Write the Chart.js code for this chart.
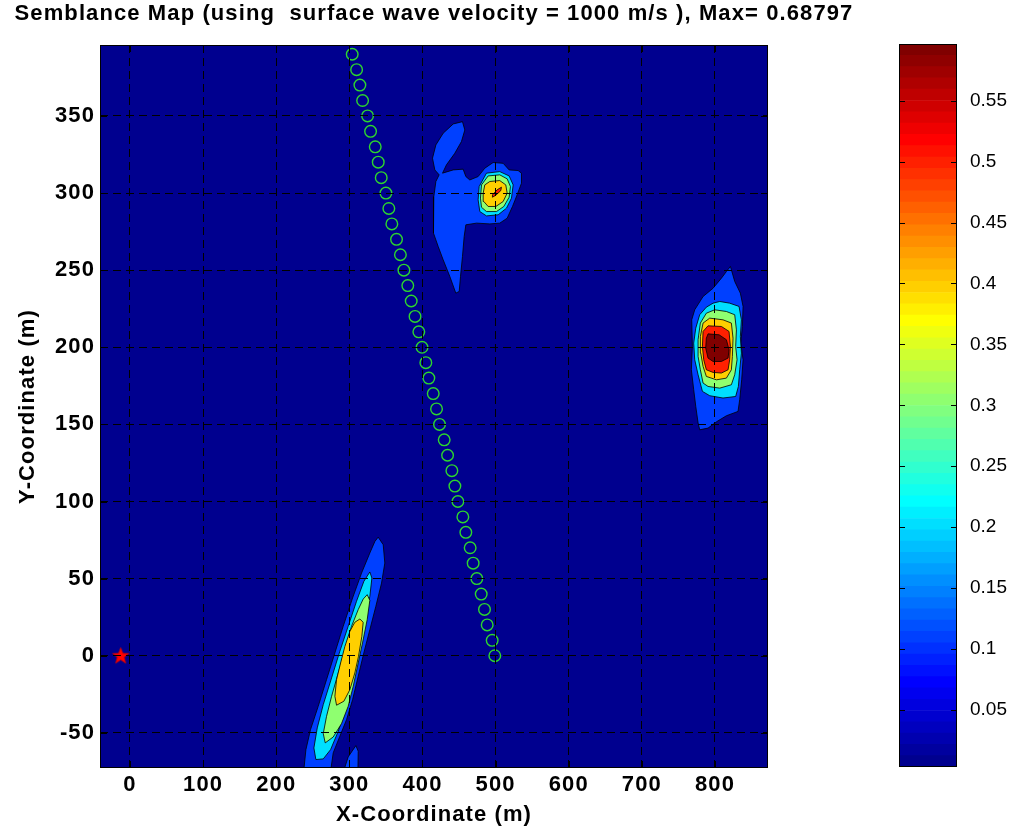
<!DOCTYPE html>
<html>
<head>
<meta charset="utf-8">
<script src="https://cdn.jsdelivr.net/npm/chart.js@4.4.1/dist/chart.umd.min.js"></script>
<style>
  html, body { margin: 0; padding: 0; background: #fff; }
  #wrap { position: relative; width: 1011px; height: 829px; overflow: hidden; }
  #main { position: absolute; left: 0; top: 0; }
  #cbar { position: absolute; left: 868px; top: 0; }
</style>
</head>
<body>
<div id="wrap">
  <canvas id="main" width="868" height="829"></canvas>
  <canvas id="cbar" width="143" height="829"></canvas>
</div>
<script>
const FONT = "'Liberation Sans', Arial, Helvetica, sans-serif";

const titleText = 'Semblance Map (using  surface wave velocity = 1000 m/s ), Max= 0.68797';

/* axes */
const xRange = [-41, 872.5];
const yRange = [-72.8, 396];
const xTicks = [0, 100, 200, 300, 400, 500, 600, 700, 800];
const yTicks = [-50, 0, 50, 100, 150, 200, 250, 300, 350];

/* colorbar */
const cbRange = [0.0032, 0.5965];
const cbTicks = [0.05, 0.1, 0.15, 0.2, 0.25, 0.3, 0.35, 0.4, 0.45, 0.5, 0.55];

/* contour levels (level 0 = background) */
const levels = [0.0032, 0.107, 0.201, 0.300, 0.398, 0.497, 0.5965];

/* receivers (green circles) */
const recvY = [0, 10, 20, 30, 40, 50, 60, 70, 80, 90, 100, 110, 120, 130, 140, 150, 160, 170, 180, 190,
               200, 210, 220, 230, 240, 250, 260, 270, 280, 290, 300, 310, 320, 330, 340, 350, 360, 370, 380, 390];
const recvX = [498.9, 495.3, 488.5, 484.8, 480.3, 474.3, 469.3, 465.2, 459.3, 455.2,
               448.4, 444.3, 440.2, 434.3, 429.7, 423.3, 419.2, 414.7, 408.7, 404.6,
               399.4, 395.0, 389.8, 384.6, 379.9, 374.6, 369.8, 364.5, 358.1, 354.0,
               350.0, 343.6, 339.5, 335.4, 329.0, 324.9, 318.1, 314.4, 309.9, 303.9];

/* source (red star) */
const srcX = [-12.7];
const srcY = [0];

/* peak near (500, 300) */
const peakA1 = [[454.7,346.3],[442.0,344.8],[428.3,338.8],[418.3,331.2],[413.7,322.6],[416.9,315.0],[422.8,311.8],
  [418.3,307.5],[415.5,297.7],[414.6,284.8],[415.5,274.0],[421.5,265.3],[428.3,256.7],[437.4,245.9],[445.6,235.1],
  [450.2,236.2],[452.0,245.9],[454.7,258.9],[457.0,271.8],[459.3,279.4],[473.9,280.5],[492.1,280.0],[505.7,280.5],
  [515.8,283.7],[523.1,291.3],[529.4,298.8],[535.4,306.4],[535.4,312.9],[530.8,314.6],[518.5,315.0],[510.3,319.3],
  [496.6,319.8],[485.2,316.1],[476.1,310.7],[464.7,308.5],[459.3,310.7],[455.6,315.5],[442.0,315.0],[427.4,312.9],
  [432.8,318.3],[444.2,325.8],[453.3,333.4],[457.9,340.9]];
const peakA2 = [[487.5,312.9],[505.7,313.9],[518.5,311.1],[524.0,305.3],[521.7,296.7],[514.9,290.2],[503.5,285.9],
  [487.5,285.2],[478.4,288.0],[476.1,295.6],[477.5,304.2]];
const peakA3 = [[489.8,311.1],[505.7,311.8],[515.8,309.2],[520.3,304.2],[518.5,297.3],[511.2,291.3],[501.2,288.0],
  [487.5,288.0],[480.7,290.8],[479.3,296.7],[480.7,305.3]];
const peakA4 = [[492.1,307.5],[505.7,308.1],[513.9,305.3],[515.8,299.9],[510.3,294.5],[500.3,291.3],[489.8,291.3],
  [483.9,294.5],[483.0,299.9],[485.2,305.3]];
const peakA5 = [[495.7,298.8],[502.1,302.1],[508.0,303.8],[507.1,301.6],[500.3,298.6],[495.7,297.3]];

/* peak near (800, 200) */
const peakB1 = [[821.1,252.4],[827.0,242.7],[834.7,235.1],[838.4,226.5],[837.5,213.5],[835.2,202.7],[838.4,191.9],
  [836.5,178.9],[833.8,166.0],[831.5,158.4],[815.6,155.6],[802.8,151.9],[790.5,147.6],[779.1,146.5],[776.9,150.9],
  [773.7,161.7],[770.9,172.5],[767.7,185.4],[769.1,200.5],[768.2,217.8],[772.3,224.3],[783.7,232.9],[797.4,238.3],
  [808.8,244.8],[815.6,249.1]];
const peakB2 = [[806.5,229.7],[820.1,228.6],[832.9,226.5],[836.1,217.8],[834.7,207.0],[836.1,196.2],[833.8,185.4],
  [832.0,174.6],[828.3,168.1],[811.0,167.1],[792.8,168.6],[782.8,171.4],[776.9,182.2],[772.3,191.9],[770.9,202.7],
  [773.7,212.4],[779.1,221.1],[788.2,226.0],[797.4,228.6]];
const peakB3 = [[799.6,224.3],[815.6,223.2],[827.0,221.1],[829.3,211.3],[828.3,200.5],[830.2,191.9],[827.0,182.2],
  [822.4,175.7],[806.5,173.5],[790.5,174.6],[783.7,176.8],[780.0,185.4],[776.9,194.1],[776.9,204.9],[780.0,215.7],
  [788.2,222.1]];
const peakB4 = [[792.8,218.9],[811.0,217.8],[822.4,215.7],[824.7,205.9],[823.8,194.1],[822.4,185.4],[815.6,180.0],
  [802.0,178.9],[788.2,181.1],[783.7,187.6],[780.5,196.2],[780.0,207.0],[783.7,215.7]];
const peakB5 = [[790.5,213.9],[808.8,213.5],[819.2,210.3],[821.1,200.5],[820.1,191.9],[817.9,185.4],[808.8,183.3],
  [797.4,183.7],[788.2,185.4],[784.6,191.9],[782.8,200.5],[783.7,210.3]];
const peakB6 = [[790.5,208.7],[805.6,208.1],[815.6,204.9],[819.2,198.4],[817.9,193.0],[808.8,190.8],[797.4,190.8],
  [790.5,193.0],[787.3,199.5],[788.2,205.9]];

/* elongated peak near (300, 0) */
const peakC1 = [[339.4,76.9],[346.3,72.0],[348.5,60.1],[344.0,47.1],[336.2,32.0],[328.0,16.9],[319.8,1.8],
  [312.1,-13.3],[304.4,-28.5],[296.2,-41.4],[287.0,-52.2],[277.9,-63.0],[273.4,-78],[236.9,-78],[240.6,-60.9],
  [246.9,-47.9],[257.4,-32.8],[268.8,-15.5],[280.2,1.8],[291.6,19.1],[304.4,37.4],[316.7,53.6],[328.0,66.6],
  [334.9,74.1]];
const peakC1b = [[308.9,-58.3],[312.1,-61.9],[311.6,-78],[290.0,-78],[298.4,-65.6]];
const peakC2 = [[328.0,54.3],[330.8,50.4],[328.0,38.5],[321.7,23.4],[315.3,8.3],[308.5,-6.9],[301.6,-22.0],
  [293.9,-36.0],[284.8,-49.0],[274.3,-60.9],[264.3,-66.9],[254.2,-67.3],[251.5,-59.8],[256.1,-46.8],[264.3,-31.7],
  [275.7,-14.4],[287.0,2.9],[298.4,19.1],[309.8,35.3],[319.8,48.2]];
const peakC3 = [[324.4,39.6],[328.0,35.9],[324.4,23.4],[318.0,8.3],[312.1,-4.7],[305.3,-19.8],[298.4,-32.8],
  [289.3,-44.0],[277.9,-52.7],[267.0,-56.5],[264.3,-50.5],[268.8,-39.3],[275.7,-26.3],[284.8,-11.2],[293.9,3.9],
  [303.0,19.1],[312.1,29.9],[319.0,36.8]];
const peakC4 = [[314.4,23.8],[318.9,21.7],[317.1,12.6],[312.5,-0.4],[307.5,-11.2],[300.7,-22.0],[292.5,-29.5],
  [282.5,-32.1],[280.2,-26.3],[282.5,-15.5],[288.0,-4.7],[293.9,6.1],[300.7,15.8],[307.5,21.7]];

const contours = [
  [peakA1, 1], [peakA2, 2], [peakA3, 3], [peakA4, 4], [peakA5, 5],
  [peakB1, 1], [peakB2, 2], [peakB3, 3], [peakB4, 4], [peakB5, 5], [peakB6, 6],
  [peakC1, 1], [peakC1b, 1], [peakC2, 2], [peakC3, 3], [peakC4, 4]
];

/* MATLAB jet(64) */
function jetRow(k) {
  const u = i => (i < 1 || i > 47) ? 0 : (i <= 16 ? i / 16 : (i <= 31 ? 1 : (48 - i) / 16));
  const r = u(k - 24), g = u(k - 8), b = u(k + 8);
  return `rgb(${Math.round(r * 255)},${Math.round(g * 255)},${Math.round(b * 255)})`;
}
function colorFor(v) {
  const t = (v - cbRange[0]) / (cbRange[1] - cbRange[0]);
  const k = Math.min(64, Math.max(1, Math.floor(t * 64) + 1));
  return jetRow(k);
}

/* red pentagram marker */
function starImage(size, color) {
  const c = document.createElement('canvas');
  c.width = size; c.height = size;
  const g = c.getContext('2d');
  const R = size / 2 - 1, r = R * 0.42, cx = size / 2, cy = size / 2 + 0.5;
  g.beginPath();
  for (let i = 0; i < 10; i++) {
    const a = -Math.PI / 2 + i * Math.PI / 5;
    const rr = i % 2 ? r : R;
    g.lineTo(cx + rr * Math.cos(a), cy + rr * Math.sin(a));
  }
  g.closePath();
  g.fillStyle = color;
  g.fill();
  g.strokeStyle = '#cc0000';
  g.lineWidth = 0.8;
  g.stroke();
  return c;
}

const datasets = contours.map(([pts, lev]) => ({
  type: 'line',
  data: pts.concat([pts[0]]).map(p => ({x: p[0], y: p[1]})),
  fill: 'shape',
  backgroundColor: colorFor(levels[lev]),
  borderColor: '#000',
  borderWidth: 0.8,
  pointRadius: 0,
  tension: 0,
  order: 20 - lev
}));

datasets.push({
  type: 'line',
  data: recvX.map((x, i) => ({x, y: recvY[i]})),
  showLine: false,
  pointStyle: 'circle',
  pointRadius: 5.8,
  pointBorderColor: 'rgb(45,215,45)',
  pointBackgroundColor: 'rgba(0,0,0,0)',
  pointBorderWidth: 1.4,
  order: -1
});

datasets.push({
  type: 'line',
  data: srcX.map((x, i) => ({x, y: srcY[i]})),
  showLine: false,
  pointStyle: starImage(19, '#ff0000'),
  order: -2
});

/* background, frame and inner tick marks; slightly wider bold text like the original */
const mainFrame = {
  id: 'mainFrame',
  beforeDraw(chart) {
    const {ctx, chartArea: a} = chart;
    ctx.letterSpacing = '1.1px';
    ctx.save();
    ctx.fillStyle = colorFor(levels[0]);
    ctx.fillRect(a.left, a.top, a.right - a.left, a.bottom - a.top);
    ctx.restore();
  },
  afterDraw(chart) {
    const {ctx, chartArea: a, scales: {x, y}} = chart;
    ctx.save();
    ctx.strokeStyle = '#000';
    ctx.lineWidth = 1;
    ctx.beginPath();
    xTicks.forEach(v => {
      const px = Math.round(x.getPixelForValue(v)) + 0.5;
      ctx.moveTo(px, a.bottom); ctx.lineTo(px, a.bottom - 7);
      ctx.moveTo(px, a.top); ctx.lineTo(px, a.top + 7);
    });
    yTicks.forEach(v => {
      const py = Math.round(y.getPixelForValue(v)) + 0.5;
      ctx.moveTo(a.left, py); ctx.lineTo(a.left + 7, py);
      ctx.moveTo(a.right, py); ctx.lineTo(a.right - 7, py);
    });
    ctx.stroke();
    ctx.strokeRect(Math.round(a.left) + 0.5, Math.round(a.top) + 0.5,
                   Math.round(a.right - a.left) - 1, Math.round(a.bottom - a.top) - 1);
    ctx.restore();
  }
};

const tickFont = {family: FONT, size: 22, weight: 'bold'};

new Chart(document.getElementById('main'), {
  type: 'line',
  data: {datasets},
  options: {
    responsive: false,
    animation: false,
    events: [],
    layout: {padding: 0},
    plugins: {
      legend: {display: false},
      tooltip: {enabled: false},
      title: {
        display: true,
        text: titleText,
        color: '#000',
        font: {family: FONT, size: 22, weight: 'bold'},
        padding: {top: 0.8, bottom: 17.8}
      }
    },
    scales: {
      x: {
        type: 'linear',
        min: xRange[0],
        max: xRange[1],
        afterBuildTicks: s => { s.ticks = xTicks.map(v => ({value: v})); },
        afterFit: s => { s.height = 61; },
        grid: {color: '#000', lineWidth: 1, drawTicks: false, z: 1},
        border: {display: false, dash: [8, 5]},
        ticks: {color: '#000', font: tickFont, padding: 4, maxRotation: 0, autoSkip: false, callback: v => String(v)},
        title: {display: true, text: 'X-Coordinate (m)', color: '#000', font: tickFont, padding: {top: 0, bottom: 1.3}}
      },
      y: {
        type: 'linear',
        min: yRange[0],
        max: yRange[1],
        afterBuildTicks: s => { s.ticks = yTicks.map(v => ({value: v})); },
        afterFit: s => { s.width = 100; },
        grid: {color: '#000', lineWidth: 1, drawTicks: false, z: 1},
        border: {display: false, dash: [8, 5]},
        ticks: {color: '#000', font: tickFont, padding: 5, autoSkip: false, callback: v => String(v)},
        title: {display: true, text: 'Y-Coordinate (m)', color: '#000', font: tickFont, padding: {top: 14.5, bottom: 0}}
      },
      yPad: {
        type: 'linear',
        position: 'right',
        grid: {display: false},
        border: {display: false},
        ticks: {display: false},
        afterFit: s => { s.width = 100; }
      }
    }
  },
  plugins: [mainFrame]
});

/* colorbar: 64 jet bands on the value axis */
const cbBands = [];
for (let i = 0; i < 64; i++) {
  const lo = cbRange[0] + i * (cbRange[1] - cbRange[0]) / 64;
  const hi = cbRange[0] + (i + 1) * (cbRange[1] - cbRange[0]) / 64;
  cbBands.push({data: [[lo, hi]], backgroundColor: jetRow(i + 1), borderWidth: 0,
                barPercentage: 1, categoryPercentage: 1});
}

const cbFrame = {
  id: 'cbFrame',
  afterDraw(chart) {
    const {ctx, chartArea: a, scales: {y}} = chart;
    ctx.save();
    ctx.strokeStyle = '#000';
    ctx.lineWidth = 1;
    ctx.beginPath();
    cbTicks.forEach(v => {
      const py = Math.round(y.getPixelForValue(v)) + 0.5;
      ctx.moveTo(a.left, py); ctx.lineTo(a.left + 6, py);
      ctx.moveTo(a.right, py); ctx.lineTo(a.right - 6, py);
    });
    ctx.stroke();
    ctx.strokeRect(Math.round(a.left) + 0.5, Math.round(a.top) + 0.5,
                   Math.round(a.right - a.left) - 1, Math.round(a.bottom - a.top) - 1);
    ctx.restore();
  }
};

new Chart(document.getElementById('cbar'), {
  type: 'bar',
  data: {labels: [''], datasets: cbBands},
  options: {
    responsive: false,
    animation: false,
    events: [],
    layout: {padding: {left: 31, top: 44, bottom: 62, right: 0}},
    plugins: {legend: {display: false}, tooltip: {enabled: false}},
    scales: {
      x: {display: false, stacked: true},
      y: {
        position: 'right',
        min: cbRange[0],
        max: cbRange[1],
        afterBuildTicks: s => { s.ticks = cbTicks.map(v => ({value: v})); },
        afterFit: s => { s.width = 54; },
        grid: {display: false},
        border: {display: false},
        ticks: {color: '#000', font: {family: FONT, size: 19}, padding: 5, callback: v => String(v)}
      }
    }
  },
  plugins: [cbFrame]
});
</script>
</body>
</html>
